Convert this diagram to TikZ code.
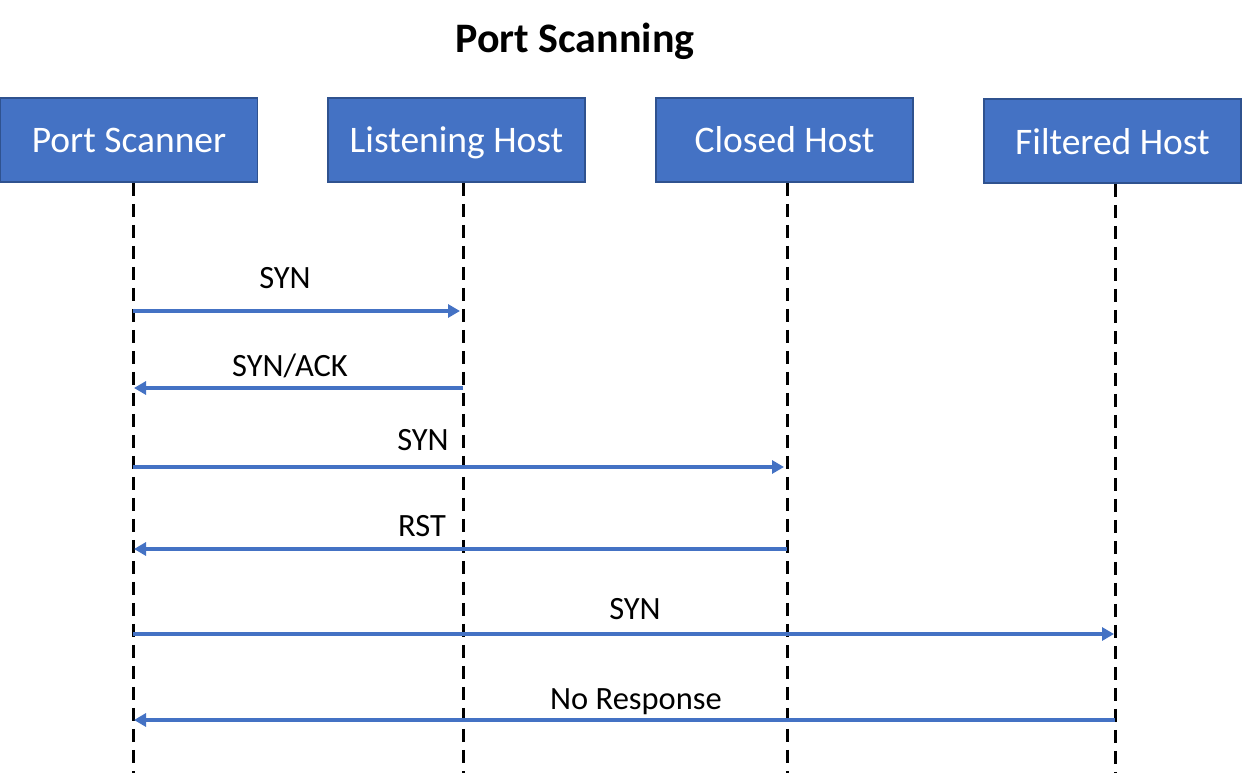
\documentclass[tikz,border=0pt]{standalone}
\usepackage{fontspec}
\setmainfont{Carlito}
\usetikzlibrary{arrows.meta}
\definecolor{boxfill}{HTML}{4472C4}
\definecolor{boxedge}{HTML}{2F528F}
\definecolor{msg}{HTML}{4472C4}
\begin{document}
\begin{tikzpicture}[x=1pt,y=-1pt,
  actor/.style={draw=boxedge, line width=1.5pt, fill=boxfill, text=white,
    minimum width=257pt, minimum height=84pt, inner sep=0pt,
    text height=26pt, text depth=0pt,
    font=\fontsize{37.5}{40}\selectfont},
  lifeline/.style={draw=black, line width=3pt, dash pattern=on 13pt off 8pt},
  message/.style={draw=msg, line width=3.4pt, -{Triangle[length=12pt,width=13pt]}},
  msglabel/.style={anchor=base, inner sep=0pt, font=\fontsize{32.5}{36}\selectfont}]
\useasboundingbox (0,0) rectangle (1242,773);
\fill[white] (0,0) rectangle (1242,773);
\node[anchor=base, inner sep=0pt, font=\bfseries\fontsize{42}{46}\selectfont] (title) at (575,53) {Port Scanning};
\node[actor] (ps) at (129,140) {Port Scanner};
\node[actor] (lh) at (456.5,140) {Listening Host};
\node[actor] (ch) at (784.5,140) {Closed Host};
\node[actor] (fh) at (1112.5,141) {Filtered Host};
% lifelines
\coordinate (psend) at (133,773);
\coordinate (lhend) at (463,773);
\coordinate (chend) at (787,773);
\coordinate (fhend) at (1115,773);
\draw[lifeline] (ps.south -| psend) -- (psend);
\draw[lifeline] (lh.south -| lhend) -- (lhend);
\draw[lifeline] (ch.south -| chend) -- (chend);
\draw[lifeline] (fh.south -| fhend) -- (fhend);
% message end points
\coordinate (a1) at (133,311); \coordinate (b1) at (460,311);
\coordinate (a2) at (463,388); \coordinate (b2) at (134,388);
\coordinate (a3) at (133,467); \coordinate (b3) at (784,467);
\coordinate (a4) at (787,549); \coordinate (b4) at (134,549);
\coordinate (a5) at (133,634); \coordinate (b5) at (1114,634);
\coordinate (a6) at (1115,720); \coordinate (b6) at (134,720);
\draw[message] (a1) -- (b1);
\draw[message] (a2) -- (b2);
\draw[message] (a3) -- (b3);
\draw[message] (a4) -- (b4);
\draw[message] (a5) -- (b5);
\draw[message] (a6) -- (b6);
\node[msglabel] (l1) at (285,288) {SYN};
\node[msglabel] (l2) at (290,376) {SYN/ACK};
\node[msglabel] (l3) at (423,450) {SYN};
\node[msglabel] (l4) at (422,536) {RST};
\node[msglabel] (l5) at (635,619) {SYN};
\node[msglabel] (l6) at (636,709) {No Response};
\end{tikzpicture}
\end{document}
